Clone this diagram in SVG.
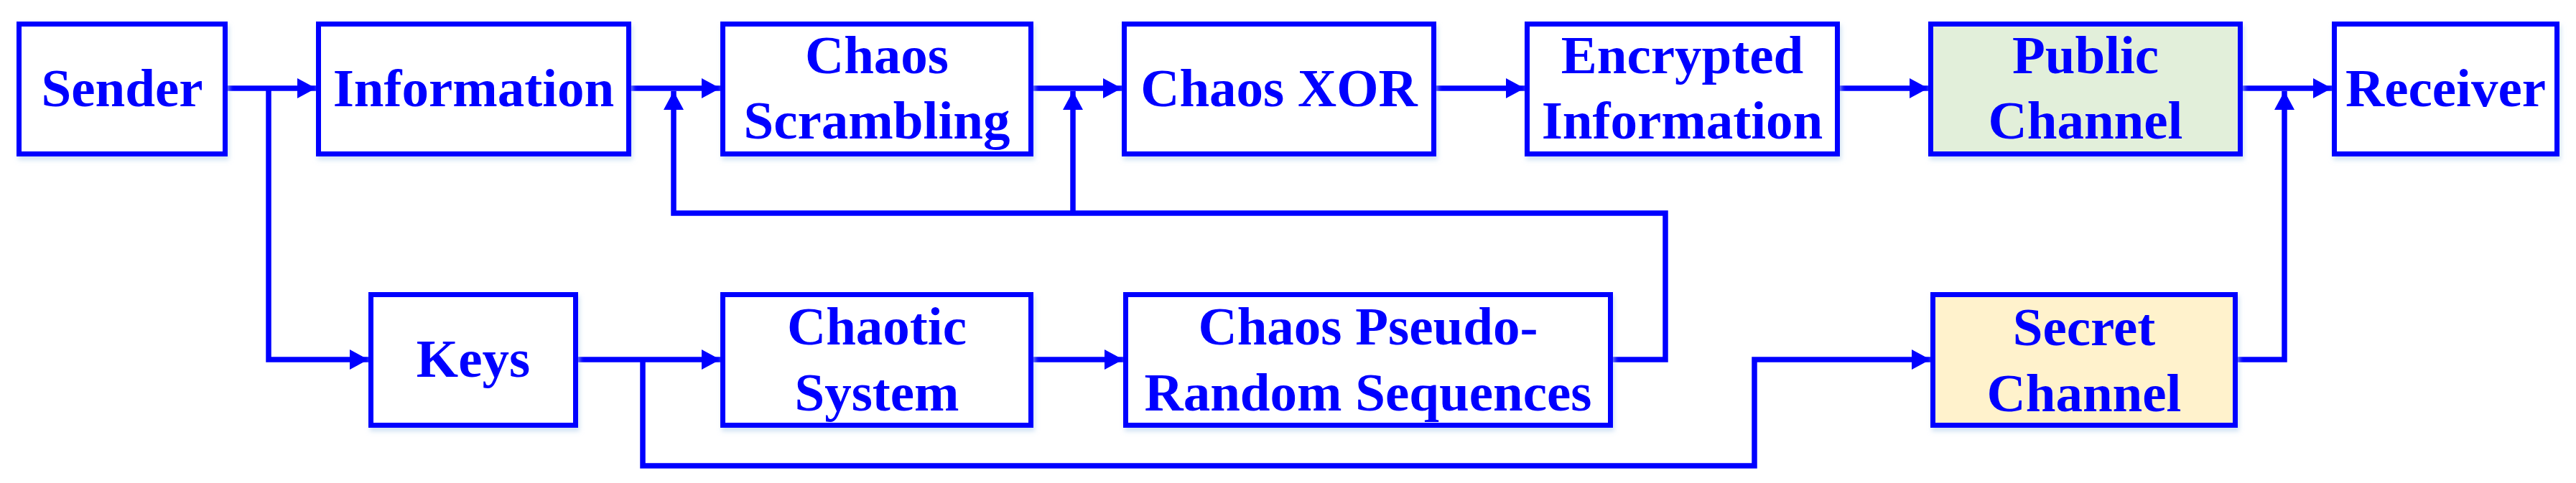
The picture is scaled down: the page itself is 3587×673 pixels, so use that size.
<svg xmlns="http://www.w3.org/2000/svg" width="3587" height="673" viewBox="0 0 3587 673">
<defs>
<style>
.box{stroke:#0000FF;stroke-width:7;fill:#FFFFFF}
.pub{fill:#E2EFDA}
.sec{fill:#FFF2CC}
.lbl{font-family:"Liberation Serif","Times New Roman",serif;font-weight:bold;font-size:75px;fill:#0000FF;text-anchor:middle}
.con{stroke:#0000FF;stroke-width:7.5;fill:none;stroke-linejoin:miter;stroke-linecap:butt}
.sh{filter:url(#shadow)}
</style>
<filter id="shadow" x="-10%" y="-10%" width="120%" height="130%">
<feDropShadow dx="2" dy="5" stdDeviation="3" flood-color="#BDD7EE" flood-opacity="0.7"/>
</filter>
<marker id="arr" markerUnits="userSpaceOnUse" markerWidth="26" markerHeight="28" refX="26" refY="14" orient="auto">
<path d="M0,0 L26,14 L0,28 Z" fill="#0000FF"/>
</marker>
</defs>
<rect width="3587" height="673" fill="#FFFFFF"/>

<g id="connectors">
<path class="con" d="M317,123 H440" marker-end="url(#arr)"/>
<path class="con" d="M374,123 V501 H513" marker-end="url(#arr)"/>
<path class="con" d="M879,123 H1003" marker-end="url(#arr)"/>
<path class="con" d="M1439,123 H1562" marker-end="url(#arr)"/>
<path class="con" d="M2000,123 H2123" marker-end="url(#arr)"/>
<path class="con" d="M2562,123 H2685" marker-end="url(#arr)"/>
<path class="con" d="M3123,123 H3247" marker-end="url(#arr)"/>
<path class="con" d="M805,501 H1003" marker-end="url(#arr)"/>
<path class="con" d="M1439,501 H1564" marker-end="url(#arr)"/>
<path class="con" d="M2246,501 H2319 V297 H938 V127" marker-end="url(#arr)"/>
<path class="con" d="M1494,297 V127" marker-end="url(#arr)"/>
<path class="con" d="M895,501 V649 H2443 V501 H2688" marker-end="url(#arr)"/>
<path class="con" d="M3116,501 H3181 V127" marker-end="url(#arr)"/>
</g>

<g id="sender" class="sh">
<rect class="box" x="26.5" y="33.5" width="287" height="181"/>
<text class="lbl" x="170" y="148">Sender</text>
</g>
<g id="information" class="sh">
<rect class="box" x="443.5" y="33.5" width="432" height="181"/>
<text class="lbl" x="659.5" y="148">Information</text>
</g>
<g id="chaos-scrambling" class="sh">
<rect class="box" x="1006.5" y="33.5" width="429" height="181"/>
<text class="lbl" x="1221" y="102">Chaos</text>
<text class="lbl" x="1221" y="193">Scrambling</text>
</g>
<g id="chaos-xor" class="sh">
<rect class="box" x="1565.5" y="33.5" width="431" height="181"/>
<text class="lbl" x="1781" y="148">Chaos XOR</text>
</g>
<g id="encrypted-information" class="sh">
<rect class="box" x="2126.5" y="33.5" width="432" height="181"/>
<text class="lbl" x="2342.5" y="102">Encrypted</text>
<text class="lbl" x="2342.5" y="193">Information</text>
</g>
<g id="public-channel" class="sh">
<rect class="box pub" x="2688.5" y="33.5" width="431" height="181"/>
<text class="lbl" x="2904" y="102">Public</text>
<text class="lbl" x="2904" y="193">Channel</text>
</g>
<g id="receiver" class="sh">
<rect class="box" x="3250.5" y="33.5" width="310" height="181"/>
<text class="lbl" x="3405.5" y="148">Receiver</text>
</g>
<g id="keys" class="sh">
<rect class="box" x="516.5" y="410.5" width="285" height="182"/>
<text class="lbl" x="659" y="525">Keys</text>
</g>
<g id="chaotic-system" class="sh">
<rect class="box" x="1006.5" y="410.5" width="429" height="182"/>
<text class="lbl" x="1221" y="480">Chaotic</text>
<text class="lbl" x="1221" y="572">System</text>
</g>
<g id="chaos-prs" class="sh">
<rect class="box" x="1567.5" y="410.5" width="675" height="182"/>
<text class="lbl" x="1905" y="480">Chaos Pseudo-</text>
<text class="lbl" x="1905" y="572">Random Sequences</text>
</g>
<g id="secret-channel" class="sh">
<rect class="box sec" x="2691.5" y="410.5" width="421" height="182"/>
<text class="lbl" x="2902" y="481">Secret</text>
<text class="lbl" x="2902" y="573">Channel</text>
</g>
</svg>
